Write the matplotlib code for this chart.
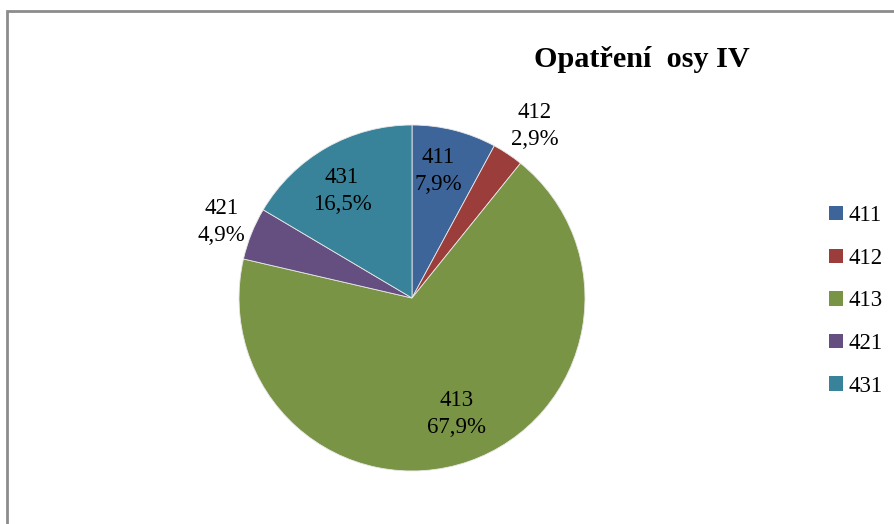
import numpy as np
import matplotlib.pyplot as plt
from matplotlib.patches import Patch

# data
codes = ['411', '412', '413', '421', '431']
shares = [7.9, 2.9, 67.9, 4.9, 16.5]
colors = ['#3D6599', '#9A3D3B', '#7A9446', '#644F80', '#388399']
title = 'Opatření  osy IV'

# label placement (fraction of radius, angle tweak in degrees)
label_dist = [0.75, 1.22, 0.72, 1.185, 0.74]
label_shift = [2.6, -1.8, 2.0, 0, 3.5]

plt.rcParams['font.family'] = ['Liberation Serif', 'DejaVu Serif']

W, H = 895, 524
fig = plt.figure(figsize=(W / 100, H / 100), dpi=100)
ax = fig.add_axes([0, 0, 1, 1])

cx, cy, r = 412, H - 298, 173
wedges, _ = ax.pie(shares, colors=colors, startangle=90, counterclock=False,
                   center=(cx, cy), radius=r, frame=True,
                   wedgeprops=dict(edgecolor='#e8e8e8', linewidth=0.6))
ax.set_xlim(0, W)
ax.set_ylim(0, H)
ax.set_aspect('equal')
ax.axis('off')

for w, code, val, d, sh in zip(wedges, codes, shares, label_dist, label_shift):
    ang = np.deg2rad((w.theta1 + w.theta2) / 2 + sh)
    tx = cx + r * d * np.cos(ang)
    ty = cy + r * d * np.sin(ang)
    ax.text(tx, ty, f'{code}\n{val:.1f}%'.replace('.', ','), ha='center',
            va='center', fontsize=16.5, linespacing=1.35, color='black')

fig.text(642 / W, 1 - 67 / H, title, ha='center', va='baseline',
         fontsize=21.8, fontweight='bold')

# chart border (top and left visible)
ax.plot([7, 7, W], [0, H - 11, H - 11], color='#8c8c8c', lw=2,
        solid_joinstyle='miter')

handles = [Patch(facecolor=c, edgecolor='none') for c in colors]
fig.legend(handles, codes, loc='center left', bbox_to_anchor=(818 / W, 1 - 301 / H),
           frameon=False, fontsize=16.5, handlelength=0.58, handleheight=0.58,
           handletextpad=0.25, labelspacing=0.94, borderpad=0)

fig.savefig('out.png', dpi=100)
